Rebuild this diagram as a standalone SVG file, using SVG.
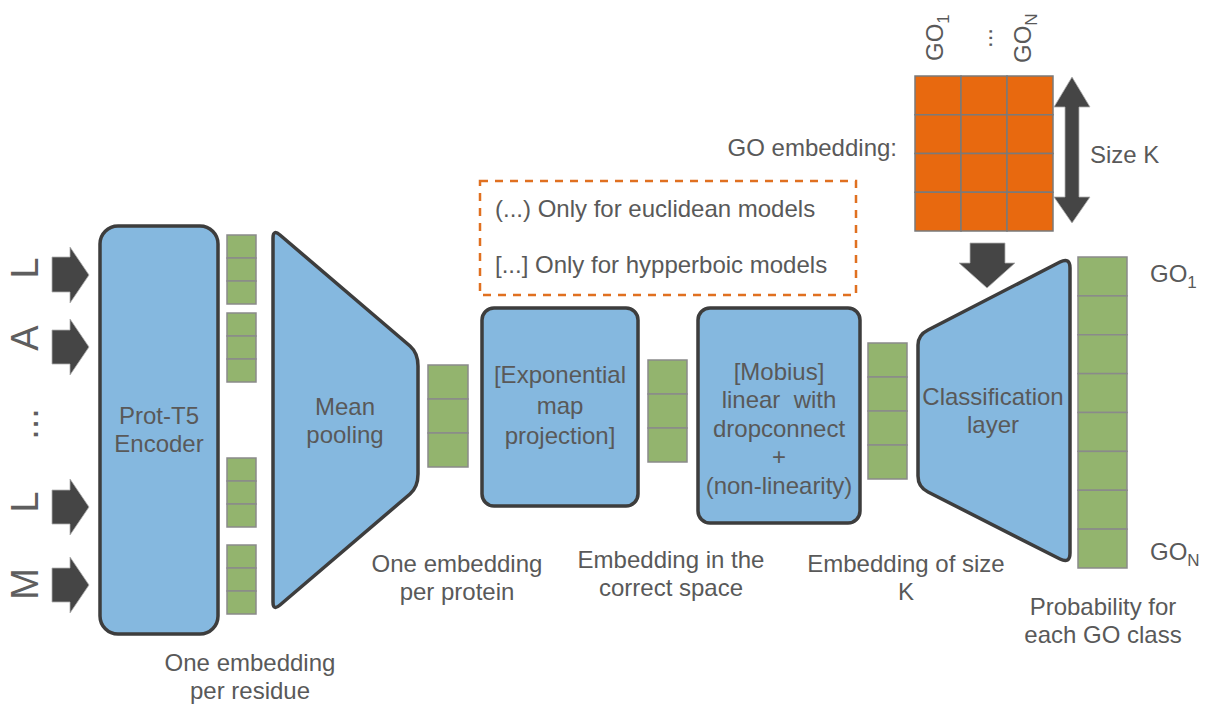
<svg xmlns="http://www.w3.org/2000/svg" width="1208" height="707" viewBox="0 0 1208 707">
<style>
text{font-family:"Liberation Sans",Arial,sans-serif;fill:#595959;font-size:24px}
.c{text-anchor:middle}
.big{font-size:38px;fill:#5e5e5e}
.blue{fill:#85b8df;stroke:#3d3d3d;stroke-width:3.5;stroke-linejoin:round}
.g{fill:#93b46e;stroke:#8a8a8a;stroke-width:1.5}
.o{fill:#e8690f;stroke:#7a7a7a;stroke-width:1.5}
.arr{fill:#454545;stroke:#b0b0b0;stroke-width:0.8}
</style>
<rect width="1208" height="707" fill="#fff"/>

<g id="inputs">
<text class="big c" transform="translate(38,268) rotate(-90)">L</text>
<text class="big c" transform="translate(38,338) rotate(-90)">A</text>
<text class="big c" transform="translate(38,424) rotate(-90)">...</text>
<text class="big c" transform="translate(38,502) rotate(-90)">L</text>
<text class="big c" transform="translate(38,584) rotate(-90)">M</text>
</g>

<g id="connectors">
<path class="arr" d="M52,257 H70 V247 L89,275 L70,303 V292 H52 Z"/>
<path class="arr" d="M52,330 H70 V319 L89,347 L70,375 V364 H52 Z"/>
<path class="arr" d="M52,490 H70 V479 L89,507 L70,535 V524 H52 Z"/>
<path class="arr" d="M52,568 H70 V557 L89,585 L70,613 V602 H52 Z"/>
<path class="arr" d="M970,243 H1005 V263 H1015 L987,288 L959,263 H970 Z"/>
<path class="arr" d="M1072,77 L1090,107 H1079 V197 H1090 L1072,223 L1054,197 H1065 V107 H1054 Z"/>
</g>

<g id="prot-t5">
<rect class="blue" x="100" y="226" width="118" height="408" rx="18"/>
<text class="c" x="159" y="424">Prot-T5</text>
<text class="c" x="159" y="452">Encoder</text>
</g>

<g id="residue-embeddings">
<rect class="g" x="227" y="235" width="29" height="23"/><rect class="g" x="227" y="258" width="29" height="23"/><rect class="g" x="227" y="281" width="29" height="23"/>
<rect class="g" x="227" y="313" width="29" height="23"/><rect class="g" x="227" y="336" width="29" height="23"/><rect class="g" x="227" y="359" width="29" height="23"/>
<rect class="g" x="227" y="458" width="29" height="23"/><rect class="g" x="227" y="481" width="29" height="23"/><rect class="g" x="227" y="504" width="29" height="23"/>
<rect class="g" x="227" y="545" width="29" height="23"/><rect class="g" x="227" y="568" width="29" height="23"/><rect class="g" x="227" y="591" width="29" height="23"/>
<text class="c" x="250" y="671">One embedding</text>
<text class="c" x="250" y="699">per residue</text>
</g>

<g id="mean-pooling">
<path class="blue" d="M273,238 Q273,229 280,235 L410,346 Q418,353 418,366 L418,474 Q418,487 410,494 L280,605 Q273,611 273,602 Z"/>
<text class="c" x="345" y="415">Mean</text>
<text class="c" x="345" y="443">pooling</text>
</g>

<g id="protein-embedding">
<rect class="g" x="428" y="365" width="40" height="34"/><rect class="g" x="428" y="399" width="40" height="34"/><rect class="g" x="428" y="433" width="40" height="34"/>
<text class="c" x="457" y="572">One embedding</text>
<text class="c" x="457" y="600">per protein</text>
</g>

<g id="legend">
<rect x="480" y="181" width="376" height="114" fill="none" stroke="#e07020" stroke-width="2.5" stroke-dasharray="8,7"/>
<text x="495" y="217">(...) Only for euclidean models</text>
<text x="495" y="273">[...] Only for hypperboic models</text>
</g>

<g id="exp-map">
<rect class="blue" x="482" y="308" width="156" height="198" rx="12"/>
<text class="c" x="560" y="383">[Exponential</text>
<text class="c" x="560" y="414">map</text>
<text class="c" x="560" y="444">projection]</text>
</g>

<g id="space-embedding">
<rect class="g" x="648" y="360" width="39" height="34"/><rect class="g" x="648" y="394" width="39" height="34"/><rect class="g" x="648" y="428" width="39" height="34"/>
<text class="c" x="671" y="568">Embedding in the</text>
<text class="c" x="671" y="596">correct space</text>
</g>

<g id="mobius">
<rect class="blue" x="698" y="308" width="162" height="215" rx="12"/>
<text class="c" x="779" y="380">[Mobius]</text>
<text class="c" x="779" y="408" xml:space="preserve">linear  with</text>
<text class="c" x="779" y="437">dropconnect</text>
<text class="c" x="779" y="465">+</text>
<text class="c" x="779" y="494">(non-linearity)</text>
</g>

<g id="k-embedding">
<rect class="g" x="868" y="343" width="39" height="34"/><rect class="g" x="868" y="377" width="39" height="34"/><rect class="g" x="868" y="411" width="39" height="34"/><rect class="g" x="868" y="445" width="39" height="34"/>
<text class="c" x="906" y="572">Embedding of size</text>
<text class="c" x="906" y="600">K</text>
</g>

<g id="go-embedding">
<text x="897" y="156" text-anchor="end">GO embedding:</text>
<rect class="o" x="915" y="76" width="46" height="38.75"/><rect class="o" x="961" y="76" width="46" height="38.75"/><rect class="o" x="1007" y="76" width="46" height="38.75"/>
<rect class="o" x="915" y="114.75" width="46" height="38.75"/><rect class="o" x="961" y="114.75" width="46" height="38.75"/><rect class="o" x="1007" y="114.75" width="46" height="38.75"/>
<rect class="o" x="915" y="153.5" width="46" height="38.75"/><rect class="o" x="961" y="153.5" width="46" height="38.75"/><rect class="o" x="1007" y="153.5" width="46" height="38.75"/>
<rect class="o" x="915" y="192.25" width="46" height="38.75"/><rect class="o" x="961" y="192.25" width="46" height="38.75"/><rect class="o" x="1007" y="192.25" width="46" height="38.75"/>
<text transform="translate(943,61) rotate(-90)">GO<tspan font-size="17" dy="6">1</tspan></text>
<text transform="translate(992,48) rotate(-90)">...</text>
<text transform="translate(1031,63) rotate(-90)">GO<tspan font-size="17" dy="6">N</tspan></text>
<text x="1090" y="163">Size K</text>
</g>

<g id="classification">
<path class="blue" d="M928,330 L1060,262 Q1070,257 1070,268 L1070,553 Q1070,564 1060,559 L928,492 Q918,487 918,476 L918,345 Q918,335 928,330 Z"/>
<text class="c" x="993" y="405">Classification</text>
<text class="c" x="993" y="433">layer</text>
</g>

<g id="output">
<rect class="g" x="1078" y="257" width="49" height="38.875"/><rect class="g" x="1078" y="295.875" width="49" height="38.875"/><rect class="g" x="1078" y="334.75" width="49" height="38.875"/><rect class="g" x="1078" y="373.625" width="49" height="38.875"/>
<rect class="g" x="1078" y="412.5" width="49" height="38.875"/><rect class="g" x="1078" y="451.375" width="49" height="38.875"/><rect class="g" x="1078" y="490.25" width="49" height="38.875"/><rect class="g" x="1078" y="529.125" width="49" height="38.875"/>
<text x="1150" y="282">GO<tspan font-size="17" dy="6">1</tspan></text>
<text x="1150" y="560">GO<tspan font-size="17" dy="6">N</tspan></text>
<text class="c" x="1103" y="615">Probability for</text>
<text class="c" x="1103" y="643">each GO class</text>
</g>
</svg>
